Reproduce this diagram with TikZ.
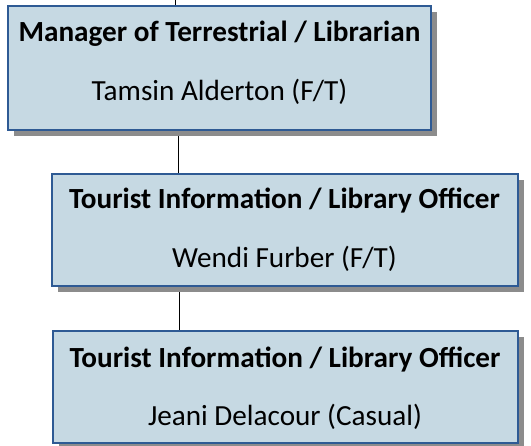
\documentclass[tikz,border=0pt]{standalone}
\usepackage{fontspec}
\setmainfont{Carlito}
\usetikzlibrary{shadows,backgrounds}
\definecolor{boxfill}{HTML}{C6D9E3}
\definecolor{boxline}{HTML}{2E5A94}
\definecolor{shadowgray}{HTML}{8C8C8C}
\begin{document}
\begin{tikzpicture}[x=1pt, y=-1pt,
    post/.style={draw=boxline, line width=2pt, fill=boxfill, inner sep=0pt,
      drop shadow={shadow xshift=6pt, shadow yshift=-6pt, fill=shadowgray, opacity=1}},
    role/.style={anchor=base, font=\fontsize{29.2}{35}\selectfont\bfseries},
    person/.style={anchor=base, font=\fontsize{29.2}{35}\selectfont},
    link/.style={line width=1.5pt}]
  \useasboundingbox (0,0) rectangle (531,446);
  % boxes
  \node [post, minimum width=423pt, minimum height=124pt] (mgr) at (219.5,68.5) {};
  \node [post, minimum width=466pt, minimum height=112pt] (tio1) at (284.5,230) {};
  \node [post, minimum width=465pt, minimum height=112pt] (tio2) at (285,387.5) {};
  % texts
  \node [role] (mgrrole) at ([yshift=-36pt]mgr.north) {Manager of Terrestrial / Librarian};
  \node [person] (mgrname) at ([yshift=-95pt]mgr.north) {Tamsin Alderton (F/T)};
  \node [role] (tio1role) at ([yshift=-36pt]tio1.north) {Tourist Information / Library Officer};
  \node [person] (tio1name) at ([yshift=-94.5pt]tio1.north) {Wendi Furber (F/T)};
  \node [role] (tio2role) at ([yshift=-37pt]tio2.north) {Tourist Information / Library Officer};
  \node [person] (tio2name) at ([yshift=-95pt]tio2.north) {Jeani Delacour (Casual)};
  % connectors
  \coordinate (up) at (175.3,0);
  \coordinate (spine) at (178.5,0);
  \begin{scope}[on background layer]
    \draw [link] (up) -- (up |- mgr.north);
    \draw [link] (spine |- mgr.south) -- (spine |- tio1.north);
    \draw [link] ([xshift=0.8pt]spine |- tio1.south) -- ([xshift=0.8pt]spine |- tio2.north);
  \end{scope}
\end{tikzpicture}
\end{document}
